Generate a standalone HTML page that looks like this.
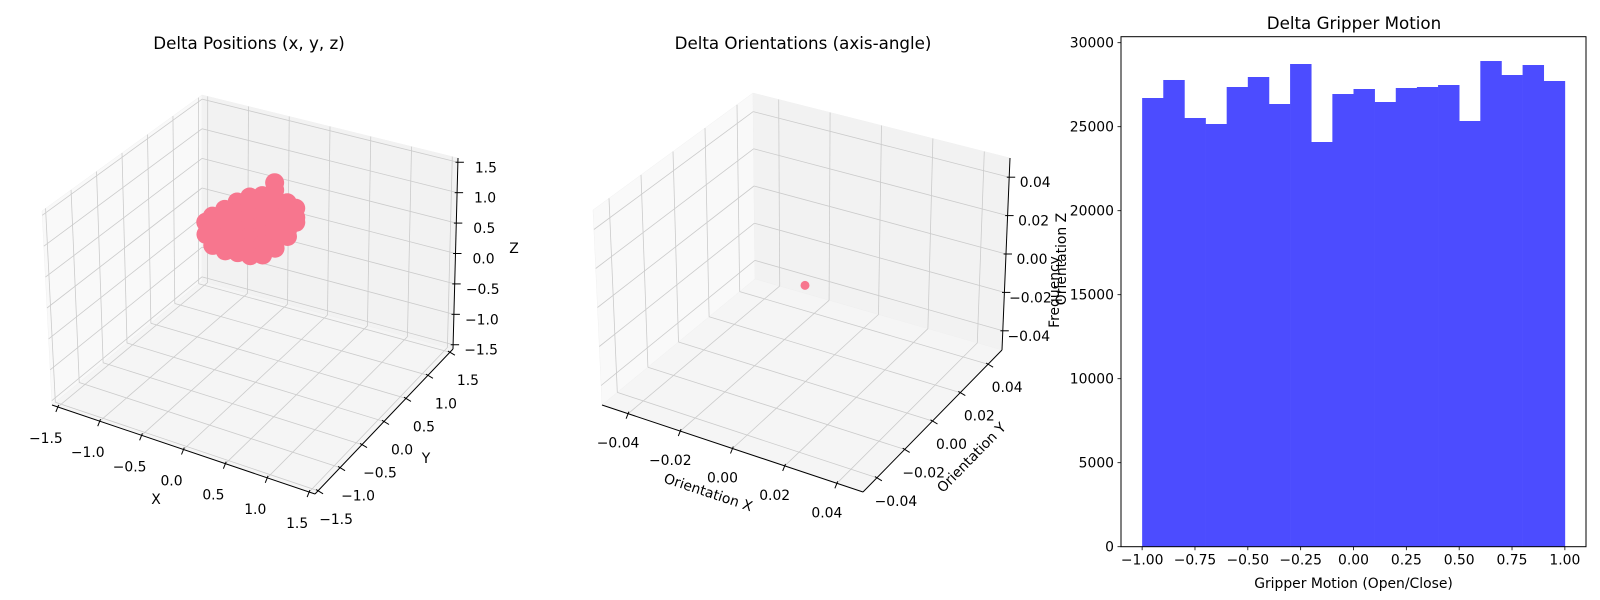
<!DOCTYPE html>
<html><head><meta charset="utf-8">
<style>
html,body{margin:0;padding:0;background:#fff;}
svg{display:block;font-family:"DejaVu Sans","Liberation Sans",sans-serif;}
</style></head>
<body>
<svg id="fig" width="1600" height="600" viewBox="0 0 1600 600" xmlns="http://www.w3.org/2000/svg">
<rect width="1600" height="600" fill="#fff"/>
<text x="249" y="49" font-size="16.7" text-anchor="middle">Delta Positions (x, y, z)</text>
<text x="803" y="49" font-size="16.7" text-anchor="middle">Delta Orientations (axis-angle)</text>
<text x="1354" y="29" font-size="16.7" text-anchor="middle">Delta Gripper Motion</text>
<g id="p1"></g>
<g id="p2"></g>
<g id="p3"></g>
</svg>
<script>
// ---- data: Delta Positions ----
const posTicks = [-1.5, -1.0, -0.5, 0.0, 0.5, 1.0, 1.5];
const posTickLabels = ["\u22121.5","\u22121.0","\u22120.5","0.0","0.5","1.0","1.5"];
const posX = [-0.58,-0.58, -0.5,-0.5,-0.5,-0.5, -0.35,-0.35,-0.35,-0.35,-0.35, -0.2,-0.2,-0.2,-0.2,-0.2,-0.2, -0.05,-0.05,-0.05,-0.05,-0.05,-0.05,-0.05, 0.1,0.1,0.1,0.1,0.1,0.1,0.1, 0.25,0.25,0.25,0.25,0.25,0.25,0.25,0.25, 0.4,0.4,0.4,0.4,0.4, 0.5,0.5,0.5];
const posY = [0,0, 0,0,0,0, 0,0,0,0,0, 0,0,0,0,0,0, 0,0,0,0,0,0,0, 0,0,0,0,0,0,0, 0,0,0,0,0,0,0,0, 0,0,0,0,0, 0,0,0];
const posZ = [0.82,0.62, 0.95,0.8,0.64,0.47, 1.12,0.97,0.82,0.67,0.44, 1.3,1.14,0.98,0.82,0.66,0.47, 1.44,1.28,1.12,0.96,0.8,0.64,0.48, 1.52,1.36,1.2,1.04,0.88,0.72,0.55, 1.79,1.67,1.54,1.38,1.22,1.06,0.9,0.72, 1.52,1.37,1.22,1.07,0.97, 1.47,1.32,1.24];
// ---- data: Delta Orientations ----
const oriTicks = [-0.04, -0.02, 0.0, 0.02, 0.04];
const oriTickLabels = ["\u22120.04","\u22120.02","0.00","0.02","0.04"];
const oriX = [0.0];
const oriY = [0.0];
const oriZ = [0.0];
// ---- data: Gripper histogram ----
const binStart = -1.0;
const binWidth = 0.1;
const binCounts = [26708,27780,25518,25161,27363,27958,26351,28732,24089,26946,27244,26470,27304,27363,27482,25339,28910,28077,28672,27720];
const histXTicks = [-1.0,-0.75,-0.5,-0.25,0.0,0.25,0.5,0.75,1.0];
const histXTickLabels = ["\u22121.00","\u22120.75","\u22120.50","\u22120.25","0.00","0.25","0.50","0.75","1.00"];
const histYTicks = [0,5000,10000,15000,20000,25000,30000];

const NS = "http://www.w3.org/2000/svg";
function mk(tag, attrs, parent){ const e=document.createElementNS(NS,tag); for(const k in attrs) e.setAttribute(k,attrs[k]); parent.appendChild(e); return e; }

function make3D(g, C, lim, ticks, labels, xs, ys, zs, opt){
  function P(x,y,z){
    const u=(x-lim[0])/(lim[1]-lim[0]), v=(y-lim[0])/(lim[1]-lim[0]), w=(z-lim[0])/(lim[1]-lim[0]);
    function bil(l,f,r,b,i){ return (1-u)*(1-v)*l[i]+u*(1-v)*f[i]+u*v*r[i]+(1-u)*v*b[i]; }
    const bx=bil(C.l,C.f,C.r,C.b,0), by=bil(C.l,C.f,C.r,C.b,1);
    const tx=bil(C.tl,C.tf,C.tr,C.tb,0), ty=bil(C.tl,C.tf,C.tr,C.tb,1);
    return [bx+(tx-bx)*w, by+(ty-by)*w];
  }
  const lo=lim[0], hi=lim[1];
  function poly(pts, fill, name){ const e=mk('polygon',{points:pts.map(p=>p.join(',')).join(' '),fill:fill,stroke:'#f0f0f0','stroke-width':0.5},g);
    
     }
  poly([P(lo,lo,lo),P(lo,hi,lo),P(lo,hi,hi),P(lo,lo,hi)], '#f9f9f9', 'x-pane');
  poly([P(lo,hi,lo),P(hi,hi,lo),P(hi,hi,hi),P(lo,hi,hi)], '#f2f2f2', 'y-pane');
  poly([P(lo,lo,lo),P(hi,lo,lo),P(hi,hi,lo),P(lo,hi,lo)], '#f5f5f5', 'z-pane');
  function line(a,b,col,w,name){ const e=mk('line',{x1:a[0],y1:a[1],x2:b[0],y2:b[1],stroke:col,'stroke-width':w},g);
    
     return e; }
  const gc='#cbcbcb';
  ticks.forEach(t=>{
    line(P(t,lo,lo),P(t,hi,lo),gc,0.8,'x-gridline');
    line(P(t,hi,lo),P(t,hi,hi),gc,0.8,'x-gridline');
    line(P(lo,t,lo),P(hi,t,lo),gc,0.8,'y-gridline');
    line(P(lo,t,lo),P(lo,t,hi),gc,0.8,'y-gridline');
    line(P(lo,lo,t),P(lo,hi,t),gc,0.8,'z-gridline');
    line(P(lo,hi,t),P(hi,hi,t),gc,0.8,'z-gridline');
  });
  line(P(lo,lo,lo),P(hi,lo,lo),'#000',1,'x-axis-line');
  line(P(hi,lo,lo),P(hi,hi,lo),'#000',1,'y-axis-line');
  line(P(hi,hi,lo),P(hi,hi,hi),'#000',1,'z-axis-line');
  function tickLab(p, off, dir, lab, name){
    line([p[0]-dir[0]*0.4,p[1]-dir[1]*0.4],[p[0]+dir[0],p[1]+dir[1]],'#000',1,name+'-tick');
    const t=mk('text',{x:p[0]+off[0],y:p[1]+off[1],'font-size':13.9,'text-anchor':'middle'},g);
    
    
    t.textContent=lab;
  }
  ticks.forEach((t,i)=>{
    tickLab(P(t,lo,lo),opt.xo,[-2,5],labels[i],'x');
    tickLab(P(hi,t,lo),opt.yo,[5,3],labels[i],'y');
    tickLab(P(hi,hi,t),opt.zo,[6,0],labels[i],'z');
  });
  opt.titles.forEach(tt=>{
    const t=mk('text',{x:tt.x,y:tt.y,'font-size':13.9,'text-anchor':'middle','dominant-baseline':'middle',transform:'rotate('+tt.r+' '+tt.x+' '+tt.y+')'},g);
    
    
    t.textContent=tt.s;
  });
  for(let i=0;i<xs.length;i++){
    const p=P(xs[i],ys[i],zs[i]);
    const c=mk('circle',{cx:p[0],cy:p[1],r:opt.r,fill:'#f7768e'},g);
    
    
  }
}

make3D(document.getElementById('p1'),
  {l:[52,405],f:[315,494],r:[453,349],b:[202,281],tl:[42,211],tf:[313,297],tr:[458,158],tb:[202,95]},
  [-1.57,1.57], posTicks, posTickLabels, posX, posY, posZ,
  {xo:[-12,36],yo:[18,33],zo:[28,10],r:9.5,
   titles:[{s:'X',x:156,y:500,r:0,name:'x-axis-title'},{s:'Y',x:426,y:459,r:0,name:'y-axis-title'},{s:'Z',x:514,y:249,r:0,name:'z-axis-title'}]});

make3D(document.getElementById('p2'),
  {l:[602,405],f:[863,492],r:[1002,350],b:[755,279],tl:[593,210],tf:[862,296],tr:[1010,158],tb:[753,93]},
  [-0.05,0.05], oriTicks, oriTickLabels, oriX, oriY, oriZ,
  {xo:[-10,34],yo:[19,28],zo:[26,10],r:4.5,
   titles:[{s:'Orientation X',x:708,y:493,r:18.4,name:'x-axis-title'},{s:'Orientation Y',x:972,y:458,r:-45.6,name:'y-axis-title'},{s:'Orientation Z',x:1062,y:259,r:-90,name:'z-axis-title'}]});

// ---- histogram ----
(function(){
  const g=document.getElementById('p3');
  const L=1121, R=1586, T=36.7, B=546.7;
  const xmin=-1.1, xmax=1.1, ymax=(B-T)/16.8*1000;
  const sx=v=>L+(v-xmin)/(xmax-xmin)*(R-L);
  const sy=v=>B-v/ymax*(B-T);
  binCounts.forEach((c,i)=>{
    const x0=sx(binStart+i*binWidth), x1=sx(binStart+(i+1)*binWidth);
    const r=mk('rect',{x:x0,y:sy(c),width:x1-x0+0.3,height:B-sy(c),fill:'#4c4cff'},g);
    
    
  });
  const fr=mk('rect',{x:L,y:T,width:R-L,height:B-T,fill:'none',stroke:'#000','stroke-width':1},g);
  
  
  histXTicks.forEach((t,i)=>{
    const x=sx(t);
    const l=mk('line',{x1:x,y1:B,x2:x,y2:B+3.5,stroke:'#000','stroke-width':0.8},g);
    
    
    const tx=mk('text',{x:x,y:B+18,'font-size':13.9,'text-anchor':'middle'},g);
    
    
    tx.textContent=histXTickLabels[i];
  });
  histYTicks.forEach(t=>{
    const y=sy(t);
    const l=mk('line',{x1:L-3.5,y1:y,x2:L,y2:y,stroke:'#000','stroke-width':0.8},g);
    
    
    const tx=mk('text',{x:L-7,y:y+5,'font-size':13.9,'text-anchor':'end'},g);
    
    
    tx.textContent=String(t);
  });
  const xl=mk('text',{x:(L+R)/2,y:588,'font-size':13.9,'text-anchor':'middle'},g);
  
  
  xl.textContent='Gripper Motion (Open/Close)';
  const yl=mk('text',{x:1055,y:292,'font-size':13.9,'text-anchor':'middle','dominant-baseline':'middle',transform:'rotate(-90 1055 292)'},g);
  
  
  yl.textContent='Frequency';
})();
</script>
</body></html>
